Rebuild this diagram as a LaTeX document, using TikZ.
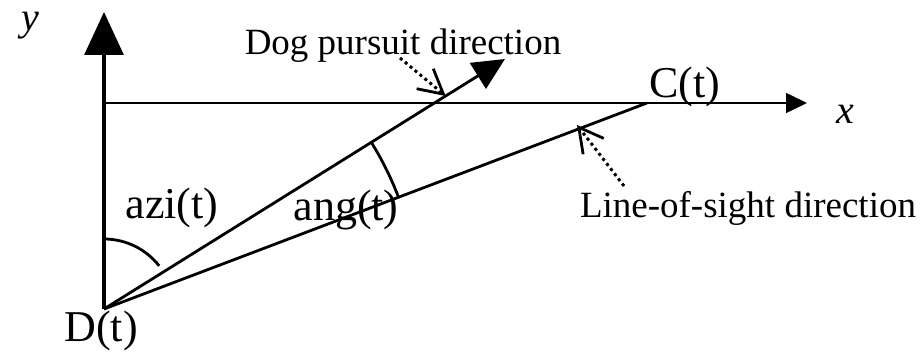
\documentclass[tikz,border=0pt]{standalone}
\usepackage{fontspec}
\setmainfont{Liberation Serif}
\usepackage{tikz}
\usetikzlibrary{arrows.meta,calc}

\tikzset{
  bigtext/.style={font=\fontsize{44}{48}\selectfont, inner sep=0pt},
  notetext/.style={font=\fontsize{37}{40}\selectfont, inner sep=0pt},
  axislabel/.style={font=\fontsize{40}{44}\selectfont\itshape, inner sep=0pt},
  pointer/.style={line width=3pt, dash pattern=on 3pt off 3.4pt,
    -{Straight Barb[length=24pt, width=26pt, line width=2.8pt]}},
}

\begin{document}
\begin{tikzpicture}[x=1pt, y=1pt, line width=2.8pt]
  \useasboundingbox (0,0) rectangle (921,352);
  \coordinate (D) at (104,43);
  \coordinate (C) at (647,249);
  \coordinate (Dogtip) at (505,293);
  \draw[line width=3.2pt, -{Triangle[length=43pt, width=39pt]}] (D) -- (104,340) coordinate (ytip);
  \draw[line width=1.4pt, -{Triangle[length=21pt, width=20pt]}] (104,249) -- (807,249) coordinate (xtip);
  \draw (D) -- (C);
  \draw[-{Triangle[length=32pt, width=30pt]}] (D) -- (Dogtip);
  \draw (D) ++(90:70) arc[start angle=90, end angle=38, radius=70];
  \draw (D) ++(32:315) arc[start angle=32, end angle=20.6, radius=315];
  \node[axislabel] (ylab) at (30,326) {y};
  \node[axislabel] (xlab) at (845,238) {x};
  \node[bigtext] (Clab) at (685,265) {C(t)};
  \node[bigtext] (Dlab) at (101,21) {D(t)};
  \node[bigtext] (azi) at (172,144) {azi(t)};
  \node[bigtext] (ang) at (346,142) {ang(t)};
  \node[notetext, anchor=base] (doglab) at (403,297) {Dog pursuit direction};
  \node[notetext, anchor=base] (loslab) at (748,134) {Line-of-sight direction};
  \coordinate (dogtail) at (400,294);
  \coordinate (doghit) at ($(D)!0.852!(Dogtip)$);
  \coordinate (lostail) at (624,166);
  \coordinate (loshit) at (577,227);
  \draw[pointer] (dogtail) -- (doghit);
  \draw[pointer] (lostail) -- (loshit);
\end{tikzpicture}
\end{document}
